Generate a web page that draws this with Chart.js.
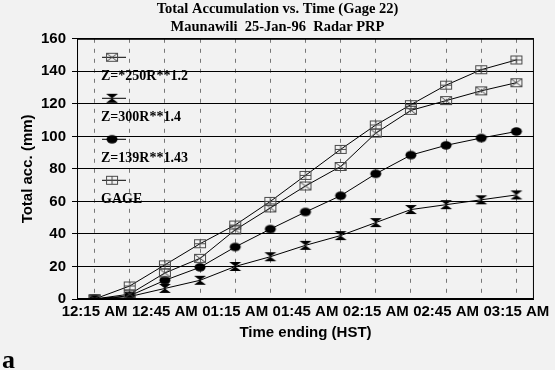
<!DOCTYPE html>
<html>
<head>
<meta charset="utf-8">
<script src="https://cdn.jsdelivr.net/npm/chart.js@4"></script>
<style>
  html, body { margin: 0; padding: 0; background: #f2f2f2; }
  #wrap { position: relative; width: 555px; height: 370px; }
</style>
</head>
<body>
<div id="wrap"><canvas id="accChart" width="555" height="370"></canvas></div>
<script>
// Total accumulation vs. time, Gage 22 (Maunawili, 25-Jan-96)

const TIME_LABELS = [
  "12:15 AM", "12:30 AM", "12:45 AM", "01:00 AM", "01:15 AM", "01:30 AM", "01:45 AM",
  "02:00 AM", "02:15 AM", "02:30 AM", "02:45 AM", "03:00 AM", "03:15 AM",
];
const Y_TICKS = [0, 20, 40, 60, 80, 100, 120, 140, 160];

const Z250 = [0, 3, 16, 25, 42.5, 56, 69.5, 81.5, 102, 116, 122, 128, 133];
const Z300 = [0, 1.5, 6.5, 11.5, 20, 26, 33, 39, 47, 55, 58, 61, 64];
const Z139 = [0, 2, 11.5, 19.5, 32, 43, 53.5, 63.5, 77, 88.5, 94.5, 99, 103];
const GAGE = [0, 8, 21, 34, 45.5, 60, 76, 92, 107, 119.5, 131.5, 141, 147];

const SERIES_NAMES = ["Z=*250R**1.2", "Z=300R**1.4", "Z=139R**1.43", "GAGE"];

// --- Marker images ---

function makeMarker(kind) {
  const c = document.createElement("canvas");
  c.width = 14;
  c.height = 11;
  const ctx = c.getContext("2d");
  ctx.lineWidth = 1;
  if (kind === "boxX" || kind === "boxPlus") {
    ctx.strokeStyle = "#4a4a4a";
    ctx.strokeRect(1.5, 1.5, 11, 8);
    ctx.beginPath();
    if (kind === "boxX") {
      ctx.moveTo(1.5, 1.5); ctx.lineTo(12.5, 9.5);
      ctx.moveTo(12.5, 1.5); ctx.lineTo(1.5, 9.5);
    } else {
      ctx.moveTo(7, 1.5); ctx.lineTo(7, 9.5);
      ctx.moveTo(1.5, 5.5); ctx.lineTo(12.5, 5.5);
    }
    ctx.stroke();
  } else if (kind === "bowtie") {
    ctx.fillStyle = "#000";
    ctx.beginPath();
    ctx.moveTo(1, 1); ctx.lineTo(13, 1); ctx.lineTo(7, 5.5); ctx.closePath();
    ctx.moveTo(1, 10); ctx.lineTo(13, 10); ctx.lineTo(7, 5.5); ctx.closePath();
    ctx.fill();
  } else {
    ctx.fillStyle = "#000";
    ctx.beginPath();
    ctx.ellipse(7, 5.5, 5.5, 4.2, 0, 0, Math.PI * 2);
    ctx.fill();
  }
  return c;
}

const MARKERS = [makeMarker("boxX"), makeMarker("bowtie"), makeMarker("dot"), makeMarker("boxPlus")];

// --- Plugins: frame, in-plot legend, panel letter ---

const framePlugin = {
  id: "frame",
  afterDraw(chart) {
    const { ctx, chartArea: a } = chart;
    ctx.save();
    ctx.strokeStyle = "#000";
    ctx.lineWidth = 1;
    ctx.strokeRect(a.left + 0.5, a.top + 0.5, a.right - a.left - 1, a.bottom - a.top - 1);

    // legend stacked inside the plot, marker above its label
    ctx.font = "bold 14px 'Liberation Serif', serif";
    ctx.fillStyle = "#000";
    ctx.textBaseline = "middle";
    for (let i = 0; i < SERIES_NAMES.length; i++) {
      const my = a.top + 18 + i * 41;
      ctx.beginPath();
      ctx.moveTo(a.left + 25, my + 0.5);
      ctx.lineTo(a.left + 49, my + 0.5);
      ctx.stroke();
      ctx.drawImage(MARKERS[i], a.left + 28, my - 5);
      ctx.fillText(SERIES_NAMES[i], a.left + 24, my + 20);
    }

    ctx.font = "bold 26px 'Liberation Serif', serif";
    ctx.textBaseline = "alphabetic";
    ctx.fillText("a", 2, 368);
    ctx.restore();
  },
};

// --- Chart ---

function lineSet(label, data, marker) {
  return {
    label: label,
    data: data,
    borderColor: "#000",
    borderWidth: 1,
    tension: 0,
    pointStyle: marker,
    pointRadius: 6,
  };
}

const axisFont = { family: "'Liberation Sans', Arial, sans-serif", size: 15, weight: "bold", lineHeight: 1.0 };

new Chart(document.getElementById("accChart"), {
  type: "line",
  data: {
    labels: TIME_LABELS,
    datasets: [
      lineSet(SERIES_NAMES[0], Z250, MARKERS[0]),
      lineSet(SERIES_NAMES[1], Z300, MARKERS[1]),
      lineSet(SERIES_NAMES[2], Z139, MARKERS[2]),
      lineSet(SERIES_NAMES[3], GAGE, MARKERS[3]),
    ],
  },
  options: {
    responsive: false,
    animation: false,
    layout: { padding: { left: 18, right: 18, top: 1, bottom: 30 } },
    plugins: {
      legend: { display: false },
      tooltip: { enabled: false },
      title: {
        display: true,
        text: ["Total Accumulation vs. Time (Gage 22)", "Maunawili  25-Jan-96  Radar PRP"],
        color: "#000",
        font: { family: "'Liberation Serif', serif", size: 14.5, weight: "bold", lineHeight: 1.2 },
        padding: { top: 0, bottom: 3 },
      },
    },
    scales: {
      x: {
        offset: true,
        grid: { color: "#777", lineWidth: 1, drawTicks: false },
        border: { display: true, color: "#000", dash: [4, 6] },
        ticks: {
          color: "#000",
          font: axisFont,
          padding: 5,
          maxRotation: 0,
          autoSkip: false,
          callback: (v, i) => (i % 2 === 0 ? TIME_LABELS[i] : ""),
        },
        title: {
          display: true,
          text: "Time ending (HST)",
          color: "#000",
          font: axisFont,
          padding: { top: 1, bottom: 0 },
        },
      },
      y: {
        min: 0,
        max: 160,
        afterBuildTicks: axis => { axis.ticks = Y_TICKS.map(v => ({ value: v })); },
        grid: { color: "#000", lineWidth: 1, tickLength: 5, tickColor: "#000" },
        border: { display: true, color: "#000" },
        ticks: { color: "#000", font: axisFont, padding: 6 },
        title: {
          display: true,
          text: "Total acc. (mm)",
          color: "#000",
          font: axisFont,
          padding: { top: 2, bottom: 0 },
        },
      },
    },
  },
  plugins: [framePlugin],
});
</script>
</body>
</html>
